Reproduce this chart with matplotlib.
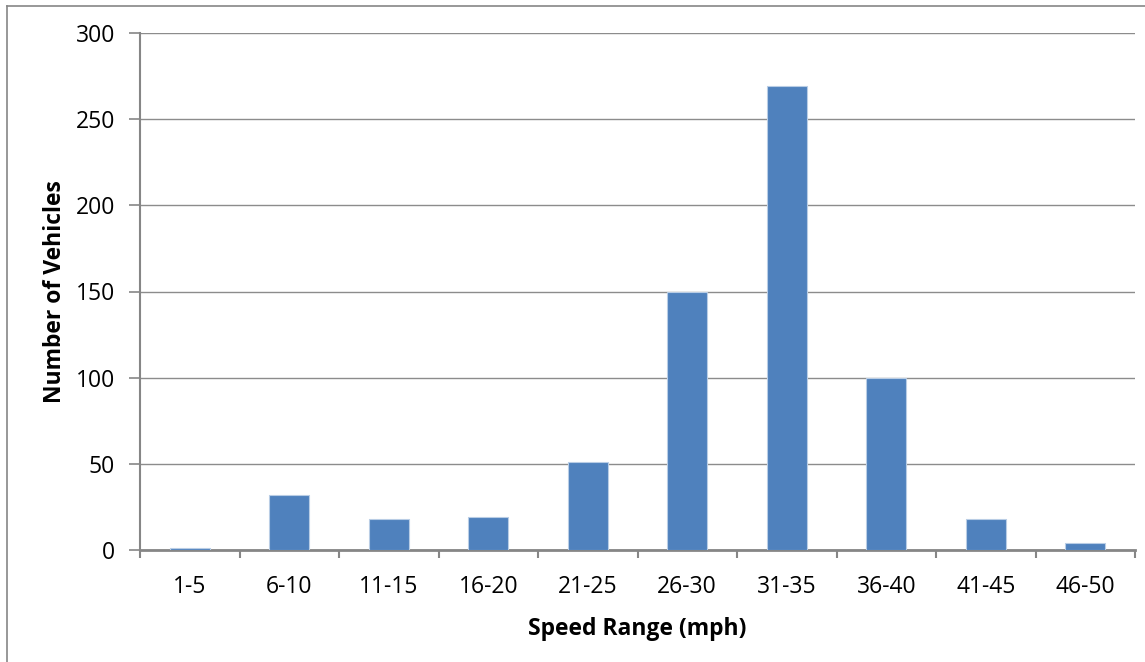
import matplotlib
matplotlib.use("Agg")
import matplotlib.pyplot as plt
from matplotlib.lines import Line2D

categories = ["1-5", "6-10", "11-15", "16-20", "21-25", "26-30", "31-35", "36-40", "41-45", "46-50"]
counts = [1, 32, 18, 19, 51, 150, 269, 100, 18, 4]
yticks = [0, 50, 100, 150, 200, 250, 300]

plt.rcParams['font.family'] = ['Open Sans', 'DejaVu Sans']

fig = plt.figure(figsize=(11.45, 6.62), dpi=100)
W, H = 1145, 662
ax = fig.add_axes([140 / W, 1 - 550 / H, (1135 - 140) / W, (550 - 33) / H])

x = list(range(len(categories)))
ax.bar(x, counts, width=0.4, color="#4F81BD", edgecolor="#B9CDE5", linewidth=0.8, zorder=3)

ax.set_xlim(-0.5, len(categories) - 0.5)
ax.set_ylim(0, 300)
ax.set_yticks(yticks)
ax.set_yticklabels([str(v) for v in yticks], fontsize=16.5)
ax.yaxis.grid(True, color="#8C8C8C", linewidth=1.0, zorder=0)
ax.set_axisbelow(True)

ax.set_xticks([i - 0.5 for i in range(len(categories) + 1)])
ax.set_xticklabels([])
ax.set_xticks(x, minor=True)
ax.set_xticklabels(categories, minor=True, fontsize=16.5)
ax.tick_params(axis="x", which="minor", length=0, pad=18)
ax.tick_params(axis="x", which="major", length=6, width=1.5, color="#868686", direction="out")
ax.tick_params(axis="y", length=8, width=1.2, color="#868686", direction="out", pad=10)

for s in ["top", "right"]:
    ax.spines[s].set_visible(False)
ax.spines["left"].set_color("#868686")
ax.spines["left"].set_linewidth(1.5)
ax.spines["bottom"].set_color("#868686")
ax.spines["bottom"].set_linewidth(2.0)

ax.set_xlabel("Speed Range (mph)", fontsize=16.5, fontweight="bold", labelpad=13)
ax.set_ylabel("Number of Vehicles", fontsize=16.5, fontweight="bold", labelpad=6)

# outer chart border (left and top edges visible in the reference)
fig.lines.append(Line2D([7 / W, 7 / W], [0, 1 - 6 / H], transform=fig.transFigure,
                        color="#868686", linewidth=1.2))
fig.lines.append(Line2D([7 / W, 1], [1 - 6 / H, 1 - 6 / H], transform=fig.transFigure,
                        color="#868686", linewidth=1.2))

fig.savefig("out.png", dpi=100)
